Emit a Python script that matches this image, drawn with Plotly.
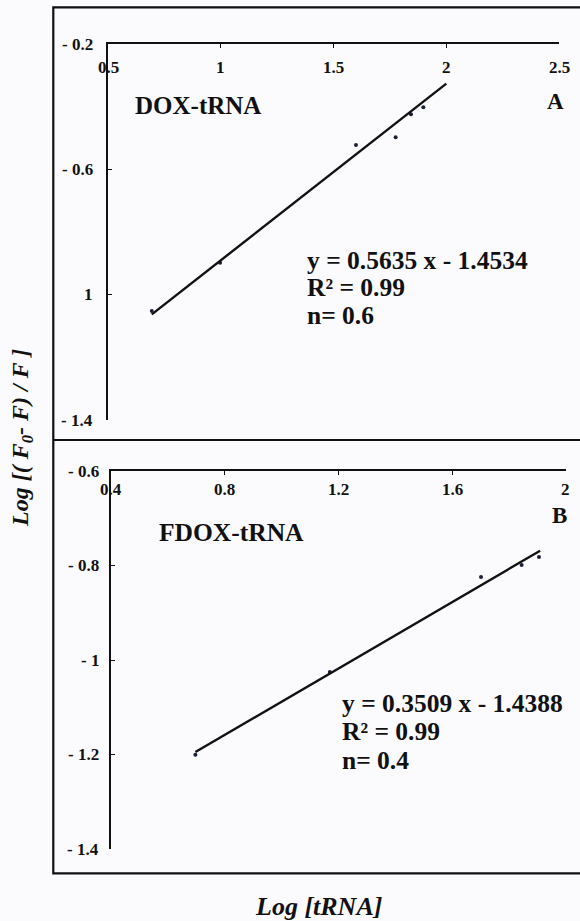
import plotly.graph_objects as go

W, H = 580, 921

# ---------------- data ----------------
# Panel A: DOX-tRNA
a_x = [0.693, 0.996, 1.599, 1.775, 1.843, 1.898]
a_y = [-1.052, -0.898, -0.522, -0.498, -0.424, -0.402]
a_slope, a_icpt = 0.5635, -1.4534
a_fit_x = [0.693, 2.0]
a_xticks = [0.5, 1.0, 1.5, 2.0, 2.5]
a_xticktext = ["0.5", "1", "1.5", "2", "2.5"]
a_yticks = [-0.2, -0.6, -1.0, -1.4]
a_yticktext = ["- 0.2", "- 0.6", "1", "- 1.4"]

# Panel B: FDOX-tRNA
b_x = [0.697, 1.17, 1.702, 1.845, 1.906]
b_y = [-1.200, -1.025, -0.824, -0.799, -0.782]
b_slope, b_icpt = 0.3509, -1.4388
b_fit_x = [0.697, 1.91]
b_xticks = [0.4, 0.8, 1.2, 1.6, 2.0]
b_xticktext = ["0.4", "0.8", "1.2", "1.6", "2"]
b_yticks = [-0.6, -0.8, -1.0, -1.2, -1.4]
b_yticktext = ["- 0.6", "- 0.8", "- 1", "- 1.2", "- 1.4"]

FONT = "Liberation Serif"
INK = "#111111"
TICK_SIZE = 17


def px_x(p):
    return p / W


def px_y(p):
    return 1 - p / H


fig = go.Figure()

# Panel A
fig.add_trace(go.Scatter(x=a_x, y=a_y, mode="markers", xaxis="x", yaxis="y",
                         marker=dict(symbol="circle", size=4, color="#1a1f3a"),
                         showlegend=False))
fig.add_trace(go.Scatter(x=a_fit_x, y=[a_slope * v + a_icpt for v in a_fit_x],
                         mode="lines", xaxis="x", yaxis="y",
                         line=dict(color=INK, width=2.4), showlegend=False))
# Panel B
fig.add_trace(go.Scatter(x=b_x, y=b_y, mode="markers", xaxis="x2", yaxis="y2",
                         marker=dict(symbol="circle", size=4, color="#1a1f3a"),
                         showlegend=False))
fig.add_trace(go.Scatter(x=b_fit_x, y=[b_slope * v + b_icpt for v in b_fit_x],
                         mode="lines", xaxis="x2", yaxis="y2",
                         line=dict(color=INK, width=2.4), showlegend=False))


def xaxis_spec(domain, rng, vals, anchor):
    return dict(side="top", showline=True, linecolor=INK, linewidth=1.6,
                ticks="inside", ticklen=4, tickwidth=1.4, tickcolor=INK,
                showticklabels=False,
                showgrid=False, zeroline=False, automargin=False,
                domain=domain, range=rng, tickmode="array",
                tickvals=vals, anchor=anchor)


def yaxis_spec(domain, rng, vals, anchor):
    return dict(showline=True, linecolor=INK, linewidth=1.6,
                ticks="inside", ticklen=4, tickwidth=1.4, tickcolor=INK,
                showticklabels=False,
                showgrid=False, zeroline=False, automargin=False,
                domain=domain, range=rng, tickmode="array",
                tickvals=vals, anchor=anchor)


a_xrange, a_yrange = [0.5, 2.5], [-1.4, -0.2]
b_xrange, b_yrange = [0.4, 2.0], [-1.4, -0.6]

fig.update_layout(
    width=W, height=H,
    template="none",
    font=dict(family=FONT, color=INK),
    margin=dict(l=0, r=0, t=0, b=0, autoexpand=False),
    paper_bgcolor="#fbfbfd", plot_bgcolor="rgba(0,0,0,0)",
    xaxis=xaxis_spec([px_x(108.3), px_x(559)], a_xrange, a_xticks, "y"),
    yaxis=yaxis_spec([px_y(420), px_y(44)], a_yrange, a_yticks, "x"),
    xaxis2=xaxis_spec([px_x(111), px_x(565.7)], b_xrange, b_xticks, "y2"),
    yaxis2=yaxis_spec([px_y(849.3), px_y(471)], b_yrange, b_yticks, "x2"),
)

tfont = dict(family=FONT, size=TICK_SIZE, color=INK, weight="bold")

# tick labels placed through the axes' own data coordinates
for xa, ya, xr, yr, xv, xt, yv, yt, xs_y, ys_x in [
    ("x", "y", a_xrange, a_yrange, a_xticks, a_xticktext, a_yticks,
     a_yticktext, -23, -13),
    ("x2", "y2", b_xrange, b_yrange, b_xticks, b_xticktext, b_yticks,
     b_yticktext, -18, -10),
]:
    for v, t in zip(xv, xt):
        fig.add_annotation(xref=xa, yref=ya, x=v, y=yr[1], text="<b>%s</b>" % t,
                           showarrow=False, xanchor="center", yanchor="middle",
                           yshift=xs_y, font=tfont)
    for v, t in zip(yv, yt):
        fig.add_annotation(xref=xa, yref=ya, x=xr[0], y=v, text="<b>%s</b>" % t,
                           showarrow=False, xanchor="right", yanchor="middle",
                           xshift=ys_x, font=tfont)

# outer frame and divider
fig.add_shape(type="rect", xref="paper", yref="paper",
              x0=px_x(53.3), x1=1.02, y0=px_y(873.3), y1=px_y(7.4),
              line=dict(color=INK, width=2.2))
fig.add_shape(type="line", xref="paper", yref="paper",
              x0=px_x(53.3), x1=1.02, y0=px_y(440), y1=px_y(440),
              line=dict(color=INK, width=2.2))


def note(text, x, y, size, anchor="left", italic=False):
    fig.add_annotation(xref="paper", yref="paper", x=px_x(x), y=px_y(y),
                       text=text, showarrow=False, xanchor=anchor,
                       yanchor="middle",
                       font=dict(family=FONT, size=size, color=INK,
                                 weight="bold",
                                 style="italic" if italic else "normal"))


note("DOX-tRNA", 133, 105, 25)
note("A", 555, 101, 23, anchor="center")
note("y = 0.5635 x - 1.4534", 305, 260, 25.5)
note("R² = 0.99", 305, 287, 25.5)
note("n= 0.6", 305, 316, 25.5)

note("FDOX-tRNA", 157, 532, 25.5)
note("B", 559, 515, 23, anchor="center")
note("y = 0.3509 x - 1.4388", 340, 703, 25.5)
note("R² = 0.99", 340, 731, 25.5)
note("n= 0.4", 340, 760, 25.5)

note("Log [tRNA]", 318, 906, 26, anchor="center", italic=True)

fig.add_annotation(xref="paper", yref="paper", x=px_x(22), y=px_y(438),
                   text="Log [( F<sub>0</sub>- F) / F ]", showarrow=False,
                   textangle=-90, xanchor="center", yanchor="middle",
                   font=dict(family=FONT, size=24, color=INK, weight="bold",
                             style="italic"))

fig.write_html("out.html")
